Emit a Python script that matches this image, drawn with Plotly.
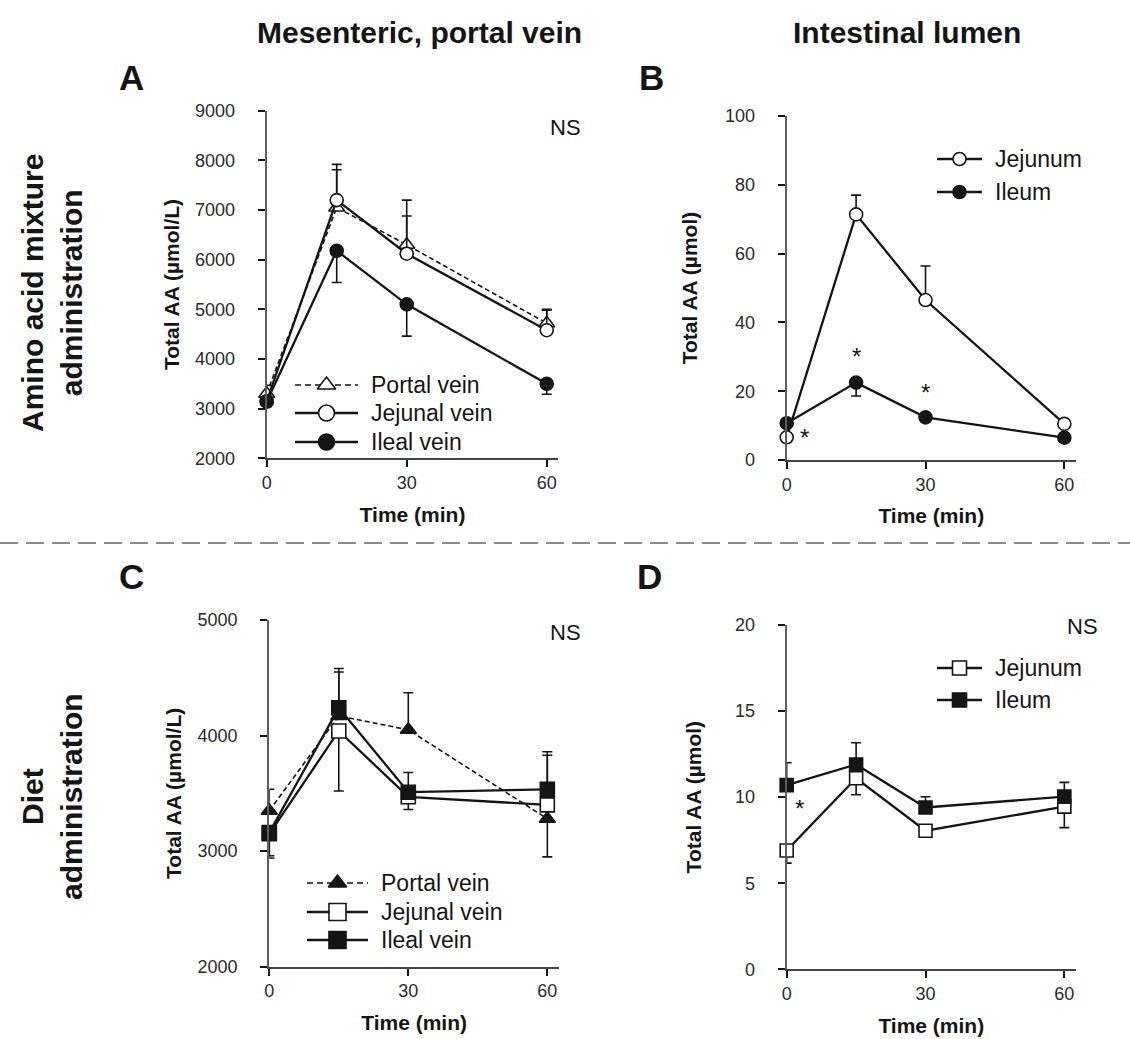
import plotly.graph_objects as go

W, H = 1130, 1039
FONT = "Liberation Sans, Arial, Helvetica, sans-serif"
INK = "#151515"
TICK_INK = "#2b2b2b"

# ---------------------------------------------------------------- data
time_min = [0, 15, 30, 60]
time_ticks = [0, 30, 60]

# A: amino acid mixture, venous blood (µmol/L)
aa_portal = [3300, 7050, 6300, 4720]
aa_portal_up = [170, 760, 900, 280]
aa_jejunal = [3150, 7200, 6120, 4580]
aa_jejunal_up = [120, 720, 760, 400]
aa_ileal = [3140, 6180, 5100, 3500]
aa_ileal_down = [100, 640, 640, 210]

# B: amino acid mixture, luminal content (µmol)
aa_jejunum = [6.6, 71.4, 46.5, 10.5]
aa_jejunum_up = [1.0, 5.6, 9.9, 1.0]
aa_ileum = [10.7, 22.5, 12.4, 6.5]
aa_ileum_down = [1.0, 3.9, 1.2, 0.8]

# C: diet, venous blood (µmol/L)
diet_portal = [3350, 4170, 4050, 3280]
diet_portal_up = [185, 380, 320, 0]
diet_portal_down = [0, 0, 0, 330]
diet_jejunal = [3150, 4040, 3470, 3400]
diet_jejunal_up = [0, 0, 0, 430]
diet_jejunal_down = [190, 520, 110, 0]
diet_ileal = [3160, 4240, 3510, 3535]
diet_ileal_up = [0, 340, 170, 325]
diet_ileal_down = [220, 0, 0, 0]

# D: diet, luminal content (µmol)
diet_jejunum = [6.9, 11.1, 8.05, 9.45]
diet_jejunum_down = [0.73, 0.96, 0.3, 1.22]
diet_ileum = [10.7, 11.9, 9.4, 10.03]
diet_ileum_up = [1.3, 1.26, 0.62, 0.83]

yticks_a = [2000, 3000, 4000, 5000, 6000, 7000, 8000, 9000]
yticks_b = [0, 20, 40, 60, 80, 100]
yticks_c = [2000, 3000, 4000, 5000]
yticks_d = [0, 5, 10, 15, 20]

blood_names = ["Portal vein", "Jejunal vein", "Ileal vein"]
lumen_names = ["Jejunum", "Ileum"]
# significance marks: (panel axis, time, series values, x shift px, y shift px)
star_marks = [("2", 0, aa_ileum, 18, -9),
              ("2", 15, aa_ileum, 0, 31),
              ("2", 30, aa_ileum, 0, 30),
              ("4", 0, diet_ileum, 13, -18)]


# ---------------------------------------------------------------- helpers
def px_x(px):
    return px / W


def px_y(py):
    return 1 - py / H


def series(y, ax, symbol, fill, size, up=None, down=None, dash="solid", lw=2.3):
    zeros = [0] * len(y)
    return go.Scatter(
        x=time_min, y=y, xaxis="x" + ax, yaxis="y" + ax,
        mode="lines+markers",
        line=dict(color=INK, width=lw, dash=dash),
        marker=dict(symbol=symbol, size=size, color=fill,
                    line=dict(color=INK, width=1.6)),
        error_y=dict(type="data", symmetric=False,
                     array=up if up is not None else zeros,
                     arrayminus=down if down is not None else zeros,
                     color=INK, thickness=1.6, width=5),
        cliponaxis=False, showlegend=False, hoverinfo="skip",
    )


fig = go.Figure()

# panel A
fig.add_trace(series(aa_portal, "", "triangle-up", "white", 14, up=aa_portal_up,
                     dash="5px,3px", lw=1.6))
fig.add_trace(series(aa_jejunal, "", "circle", "white", 13, up=aa_jejunal_up))
fig.add_trace(series(aa_ileal, "", "circle", INK, 13, down=aa_ileal_down))
# panel B
fig.add_trace(series(aa_jejunum, "2", "circle", "white", 13, up=aa_jejunum_up))
fig.add_trace(series(aa_ileum, "2", "circle", INK, 13, down=aa_ileum_down))
# panel C
fig.add_trace(series(diet_portal, "3", "triangle-up", INK, 14, up=diet_portal_up,
                     down=diet_portal_down, dash="5px,3px", lw=1.6))
fig.add_trace(series(diet_jejunal, "3", "square", "white", 14, up=diet_jejunal_up,
                     down=diet_jejunal_down))
fig.add_trace(series(diet_ileal, "3", "square", INK, 14, up=diet_ileal_up,
                     down=diet_ileal_down))
# panel D
fig.add_trace(series(diet_jejunum, "4", "square", "white", 13, down=diet_jejunum_down))
fig.add_trace(series(diet_ileum, "4", "square", INK, 13, up=diet_ileum_up))


# ---------------------------------------------------------------- legends (pixel overlay)
def legend_entry(x0, x1, y, text, symbol, fill, size, dash="solid", lw=2.3):
    fig.add_trace(go.Scatter(x=[x0, x1], y=[y, y], xaxis="x5", yaxis="y5", mode="lines",
                             line=dict(color=INK, width=lw, dash=dash),
                             showlegend=False, hoverinfo="skip", cliponaxis=False))
    fig.add_trace(go.Scatter(x=[(x0 + x1) / 2], y=[y], xaxis="x5", yaxis="y5",
                             mode="markers",
                             marker=dict(symbol=symbol, size=size, color=fill,
                                         line=dict(color=INK, width=1.6)),
                             showlegend=False, hoverinfo="skip", cliponaxis=False))
    fig.add_annotation(x=px_x(x1 + 11), y=px_y(y), xref="paper", yref="paper",
                       text=text, showarrow=False, xanchor="left", yanchor="middle",
                       font=dict(family=FONT, size=23, color=INK))


legend_entry(295, 358, 385, blood_names[0], "triangle-up", "white", 16, dash="6px,4px", lw=1.6)
legend_entry(295, 358, 413, blood_names[1], "circle", "white", 16)
legend_entry(295, 358, 442, blood_names[2], "circle", INK, 16)

legend_entry(937, 982, 159, lumen_names[0], "circle", "white", 13)
legend_entry(937, 982, 192, lumen_names[1], "circle", INK, 13)

legend_entry(307, 368, 883, blood_names[0], "triangle-up", INK, 16, dash="6px,4px", lw=1.6)
legend_entry(307, 368, 912, blood_names[1], "square", "white", 17)
legend_entry(307, 368, 940, blood_names[2], "square", INK, 17)

legend_entry(937, 982, 668, lumen_names[0], "square", "white", 14)
legend_entry(937, 982, 700, lumen_names[1], "square", INK, 14)

# ---------------------------------------------------------------- axes
tick_font = dict(family=FONT, size=18, color=TICK_INK)
title_font = dict(family=FONT, size=21, color=INK, weight="bold")
common = dict(showline=True, ticks="outside", ticklen=7,
              tickwidth=1.8, tickcolor=INK, showgrid=False, zeroline=False,
              tickfont=tick_font, fixedrange=True)


def x_axis(x0px, x1px, anchor):
    return dict(common, domain=[px_x(x0px), px_x(x1px)], range=[0, 62.5],
                linecolor="#444444", linewidth=2,
                tickvals=time_ticks, anchor=anchor, ticklabelstandoff=0,
                title=dict(text="Time (min)", font=title_font, standoff=15))


def y_axis(y0px, y1px, rng, ticks, unit, anchor, standoff):
    return dict(common, domain=[px_y(y0px), px_y(y1px)], range=rng, tickvals=ticks,
                linecolor="#5e5e5e", linewidth=2.2,
                anchor=anchor, ticklabelstandoff=19,
                title=dict(text="Total AA (" + unit + ")", font=title_font, standoff=standoff))


fig.update_layout(
    xaxis=x_axis(266.7, 558.4, "y"),
    yaxis=y_axis(458.3, 110.7, [2000, 9000], yticks_a, "µmol/L", "x", 10),
    xaxis2=x_axis(786.7, 1075.9, "y2"),
    yaxis2=y_axis(460, 116, [0, 100], yticks_b, "µmol", "x2", 22),
    xaxis3=x_axis(269.3, 558.9, "y3"),
    yaxis3=y_axis(966.7, 620, [2000, 5000], yticks_c, "µmol/L", "x3", 10),
    xaxis4=x_axis(786.7, 1075.9, "y4"),
    yaxis4=y_axis(969.3, 625, [0, 20], yticks_d, "µmol", "x4", 28),
    xaxis5=dict(domain=[0, 1], range=[0, W], visible=False, anchor="y5", fixedrange=True),
    yaxis5=dict(domain=[0, 1], range=[H, 0], visible=False, anchor="x5", fixedrange=True),
)

# ---------------------------------------------------------------- text
def label(x, y, text, size, bold=True, angle=0, color=INK):
    fig.add_annotation(x=px_x(x), y=px_y(y), xref="paper", yref="paper", text=text,
                       showarrow=False, xanchor="center", yanchor="middle",
                       textangle=angle,
                       font=dict(family=FONT, size=size, color=color,
                                 weight="bold" if bold else "normal"))


label(419, 33, "Mesenteric, portal vein", 30)
label(907, 33, "Intestinal lumen", 30)
label(52, 293, "Amino acid mixture<br>administration", 30, angle=-90)
label(52, 797, "Diet<br>administration", 30, angle=-90)
for letter, (lx, ly) in zip("ABCD", [(131, 78), (651, 78), (131, 576), (649, 576)]):
    label(lx, ly, letter, 35)
for nx, ny in [(565, 128), (565, 632), (1082, 626)]:
    label(nx, ny, "NS", 22, bold=False)

for ax, t, vals, dx, dy in star_marks:
    fig.add_annotation(x=t, y=vals[time_min.index(t)], xref="x" + ax, yref="y" + ax,
                       text="*", showarrow=False, xanchor="center", yanchor="middle",
                       xshift=dx, yshift=dy - 5,
                       font=dict(family=FONT, size=24, color=INK))

# dashed separator between the two rows
fig.add_shape(type="line", xref="paper", yref="paper", x0=0, x1=1,
              y0=px_y(543), y1=px_y(543),
              line=dict(color="#8a8a8a", width=2, dash="18px,8px"))

fig.update_layout(
    width=W, height=H, margin=dict(l=0, r=0, t=0, b=0),
    paper_bgcolor="white", plot_bgcolor="rgba(0,0,0,0)",
    showlegend=False, template="none",
)

fig.write_html("out.html", config={"displayModeBar": False})
